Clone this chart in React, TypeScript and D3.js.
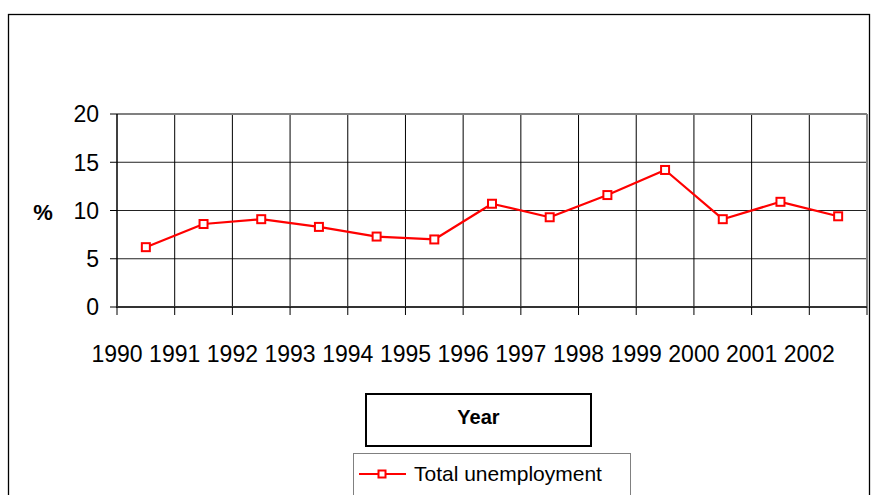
import * as d3 from "d3";

const years = ["1990", "1991", "1992", "1993", "1994", "1995", "1996", "1997", "1998", "1999", "2000", "2001", "2002"];
const unemployment = [6.2, 8.6, 9.1, 8.3, 7.3, 7.0, 10.7, 9.3, 11.6, 14.2, 9.1, 10.9, 9.4];
const yTicks = [0, 5, 10, 15, 20];

const W = 871;
const H = 495;
const PLOT = { left: 117, right: 867, top: 114, bottom: 307 };
const FONT = "'Liberation Sans', Arial, sans-serif";
const RED = "#ff0000";

export default function App() {
  const x = d3.scaleBand<string>().domain(years).range([PLOT.left, PLOT.right]);
  const y = d3.scaleLinear().domain([0, 20]).range([PLOT.bottom, PLOT.top]);
  const cx = (d: string) => (x(d) ?? 0) + x.bandwidth() / 2;

  const line = d3
    .line<number>()
    .x((_, i) => cx(years[i]))
    .y((d) => y(d));

  const boundaries = [...years.map((d) => x(d) ?? 0), PLOT.right];

  return (
    <svg
      width={W}
      height={H}
      style={{ position: "absolute", left: 0, top: 0, background: "#fff" }}
      fontFamily={FONT}
    >
      {/* outer chart border */}
      <rect x={8.5} y={14.5} width={861} height={520} fill="none" stroke="#000" strokeWidth={1.3} />

      {/* horizontal gridlines */}
      {yTicks.slice(1, -1).map((t) => (
        <line key={t} x1={PLOT.left} x2={PLOT.right} y1={y(t)} y2={y(t)} stroke="#222" strokeWidth={1} />
      ))}
      {/* vertical gridlines */}
      {boundaries.slice(1, -1).map((b, i) => (
        <line key={i} x1={b} x2={b} y1={PLOT.top} y2={PLOT.bottom} stroke="#000" strokeWidth={1} />
      ))}
      {/* plot border top & right */}
      <line x1={PLOT.left} x2={PLOT.right} y1={PLOT.top} y2={PLOT.top} stroke="#808080" strokeWidth={2} />
      <line x1={PLOT.right} x2={PLOT.right} y1={PLOT.top} y2={PLOT.bottom} stroke="#808080" strokeWidth={2} />

      {/* y axis */}
      <line x1={PLOT.left} x2={PLOT.left} y1={PLOT.top} y2={PLOT.bottom + 1} stroke="#000" strokeWidth={1.5} />
      {yTicks.map((t) => (
        <g key={t}>
          <line x1={PLOT.left - 7} x2={PLOT.left} y1={y(t)} y2={y(t)} stroke="#000" />
          <text x={99} y={y(t)} dy="0.36em" textAnchor="end" fontSize={23}>
            {t}
          </text>
        </g>
      ))}
      <text x={43} y={220} textAnchor="middle" fontSize={22} fontWeight="bold">
        %
      </text>

      {/* x axis */}
      <line x1={PLOT.left} x2={PLOT.right} y1={PLOT.bottom} y2={PLOT.bottom} stroke="#333" strokeWidth={2} />
      {boundaries.map((b, i) => (
        <line key={i} x1={b} x2={b} y1={PLOT.bottom} y2={PLOT.bottom + 8} stroke="#000" />
      ))}
      {years.map((d) => (
        <text key={d} x={x(d) ?? 0} y={362} textAnchor="middle" fontSize={23}>
          {d}
        </text>
      ))}

      {/* series */}
      <path d={line(unemployment) ?? ""} fill="none" stroke={RED} strokeWidth={2.2} strokeLinejoin="round" />
      {unemployment.map((v, i) => (
        <rect
          key={i}
          x={cx(years[i]) - 4}
          y={y(v) - 4}
          width={8}
          height={8}
          fill="#fff"
          stroke={RED}
          strokeWidth={2}
        />
      ))}

      {/* axis title box */}
      <rect x={366} y={394} width={225} height={52} fill="#fff" stroke="#000" strokeWidth={2} />
      <text x={478.5} y={424} textAnchor="middle" fontSize={20} fontWeight="bold">
        Year
      </text>

      {/* legend */}
      <rect x={353.5} y={453.5} width={277} height={80} fill="#fff" stroke="#808080" strokeWidth={1} />
      <line x1={359} x2={406} y1={474} y2={474} stroke={RED} strokeWidth={2.2} />
      <rect x={378.5} y={470.5} width={7} height={7} fill="#fff" stroke={RED} strokeWidth={2} />
      <text x={414} y={481} fontSize={21}>
        Total unemployment
      </text>
    </svg>
  );
}
